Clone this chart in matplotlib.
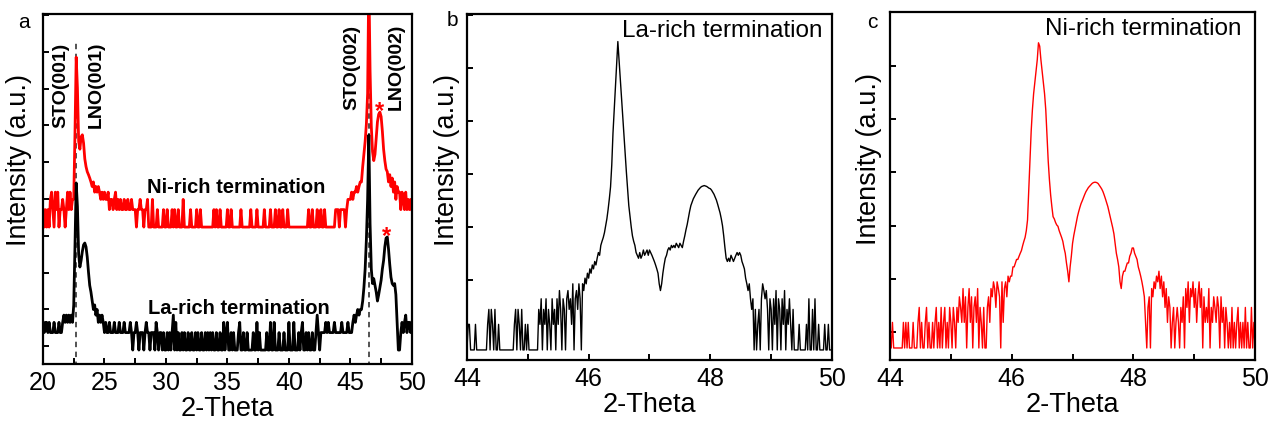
import numpy as np
import matplotlib
matplotlib.use("Agg")
import matplotlib.pyplot as plt

plt.rcParams["font.family"] = ["Liberation Sans", "DejaVu Sans"]

# ---- panel a: wide scans 20-50 deg, 0.1 deg step (raw counts) ----
theta_wide = np.round(np.linspace(20.0, 50.0, 301), 2)

counts_la_wide = [
    3, 2, 3, 3, 2, 3, 2, 2, 2, 3,         # 20
    2, 2, 2, 3, 2, 2, 3, 4, 3, 4,         # 21
    3, 4, 3, 4, 3, 6, 60, 760, 300, 45,   # 22
    27, 35, 50, 65, 70, 60, 40, 22, 13, 10,  # 23
    7, 5, 6, 4, 5, 3, 4, 3, 4, 3,         # 24
    2, 3, 2, 2, 3, 2, 2, 2, 3, 2,         # 25
    2, 2, 3, 2, 2, 2, 3, 2, 2, 2,         # 26
    2, 3, 2, 1, 2, 2, 3, 2, 1, 2,         # 27
    2, 2, 1, 2, 3, 2, 2, 1, 2, 2,         # 28
    2, 1, 3, 2, 1, 2, 2, 1, 2, 1,         # 29
    1, 2, 1, 2, 1, 2, 4, 1, 3, 1,         # 30
    2, 1, 1, 2, 1, 2, 1, 1, 2, 1,         # 31
    1, 2, 1, 1, 2, 1, 2, 1, 1, 2,         # 32
    1, 1, 2, 1, 2, 1, 2, 1, 2, 1,         # 33
    1, 2, 1, 1, 2, 1, 1, 3, 1, 2,         # 34
    3, 1, 1, 2, 1, 2, 1, 1, 1, 2,         # 35
    3, 1, 1, 2, 1, 1, 2, 1, 1, 1,         # 36
    1, 2, 1, 1, 3, 1, 2, 1, 1, 1,         # 37
    1, 1, 2, 1, 1, 3, 1, 1, 3, 1,         # 38
    1, 1, 2, 1, 1, 1, 2, 1, 1, 1,         # 39
    3, 1, 1, 1, 3, 1, 1, 1, 2, 1,         # 40
    2, 3, 1, 1, 2, 1, 2, 1, 1, 2,         # 41
    1, 1, 2, 4, 2, 1, 2, 2, 2, 2,         # 42
    3, 2, 3, 2, 2, 2, 2, 3, 2, 2,         # 43
    2, 2, 2, 3, 2, 2, 2, 2, 3, 2,         # 44
    2, 2, 3, 4, 3, 4, 5, 4, 5, 5,         # 45
    7, 12, 25, 80, 390, 5100, 150, 25, 14, 17,  # 46
    13, 10, 7, 9, 12, 16, 25, 35, 60, 85,  # 47
    89, 55, 30, 18, 14, 13, 14, 9, 3, 1,  # 48
    1, 2, 3, 2, 3, 4, 2, 3, 3, 2,         # 49
    3,
]

counts_ni_wide = [
    2, 1, 2, 1, 2, 1, 3, 4, 2, 1,         # 20
    4, 2, 4, 1, 2, 2, 3, 2, 1, 2,         # 21
    4, 2, 4, 2, 3, 3, 40, 850, 250, 30,   # 22
    22, 36, 39, 28, 15, 11, 9, 8, 7, 6,   # 23
    5, 6, 4, 5, 4, 5, 4, 3, 4, 3,         # 24
    4, 3, 3, 4, 2, 3, 3, 2, 3, 4,         # 25
    2, 3, 2, 3, 2, 2, 3, 2, 2, 3,         # 26
    2, 2, 3, 2, 2, 2, 1, 2, 2, 3,         # 27
    2, 2, 1, 2, 2, 3, 1, 1, 1, 3,         # 28
    1, 1, 1, 2, 1, 1, 1, 1, 2, 1,         # 29
    1, 2, 1, 1, 1, 2, 1, 2, 1, 1,         # 30
    2, 1, 1, 1, 3, 1, 1, 1, 1, 1,         # 31
    2, 1, 1, 1, 1, 2, 1, 1, 2, 1,         # 32
    1, 1, 1, 1, 1, 1, 1, 1, 1, 2,         # 33
    1, 2, 1, 1, 2, 1, 1, 1, 1, 1,         # 34
    2, 1, 1, 2, 1, 1, 1, 1, 1, 1,         # 35
    1, 2, 1, 1, 1, 1, 1, 1, 1, 2,         # 36
    1, 1, 1, 1, 2, 1, 1, 1, 1, 1,         # 37
    2, 1, 1, 1, 1, 2, 1, 1, 1, 2,         # 38
    1, 1, 2, 1, 1, 2, 1, 1, 1, 2,         # 39
    1, 1, 1, 1, 1, 1, 1, 1, 1, 1,         # 40
    1, 1, 1, 1, 1, 1, 2, 1, 1, 2,         # 41
    1, 1, 1, 2, 1, 1, 2, 1, 1, 2,         # 42
    1, 1, 1, 1, 1, 1, 1, 1, 2, 2,         # 43
    2, 1, 2, 2, 2, 2, 1, 2, 3, 3,         # 44
    3, 4, 3, 4, 4, 5, 4, 5, 6, 6,         # 45
    11, 18, 30, 60, 200, 20000, 500, 55, 20, 14,  # 46
    18, 35, 65, 88, 96, 80, 45, 22, 14, 10,  # 47
    9, 6, 8, 5, 7, 4, 6, 3, 5, 4,         # 48
    4, 2, 4, 3, 2, 4, 2, 3, 2, 3,         # 49
    2,
]

# ---- panels b, c: fine scans 44-50 deg, 0.02 deg step ----
theta_fine = np.round(np.linspace(44.0, 50.0, 301), 2)

counts_la_fine = [
    1, 2, 2, 1, 1, 1, 1, 2, 1, 1,          # 44.0
    1, 1, 1, 1, 1, 1, 1, 2, 3, 1,          # 44.2
    3, 2, 1, 3, 1, 1, 2, 1, 1, 1,          # 44.4
    1, 1, 1, 1, 1, 1, 1, 1, 1, 2,          # 44.6
    3, 1, 3, 2, 1, 3, 1, 1, 2, 1,          # 44.8
    2, 1, 1, 1, 1, 1, 1, 1, 1, 3,          # 45.0
    2, 4, 1, 3, 2, 4, 1, 3, 2, 1,          # 45.2
    4, 2, 3, 1, 4, 2, 5, 3, 1, 4,          # 45.4
    3, 1, 4, 5, 3, 4, 2, 6, 1, 4,          # 45.6
    5, 3, 6, 4, 1, 6, 5, 7, 6, 8,          # 45.8
    7, 9, 8, 10, 9, 11, 10, 12, 14, 13,    # 46.0
    17, 19, 21, 24, 29, 35, 45, 60, 83, 150,  # 46.2
    355, 660, 1230, 2290, 4260, 2570, 1580, 955, 590, 355,  # 46.4
    200, 125, 80, 50, 37, 28, 22, 19, 17, 14,  # 46.6
    13, 12, 14, 12, 13, 15, 13, 14, 15, 13,  # 46.8
    15, 14, 13, 12, 11, 10, 9, 8, 6, 5,    # 47.0
    6, 8, 10, 12, 13, 15, 16, 15, 17, 16,  # 47.2
    17, 16, 18, 17, 16, 18, 17, 16, 19, 22,  # 47.4
    26, 30, 36, 43, 50, 55, 60, 64, 68, 72,  # 47.6
    76, 79, 82, 84, 85, 86, 85, 84, 82, 80,  # 47.8
    79, 76, 72, 68, 63, 58, 52, 46, 41, 35,  # 48.0
    29, 22, 16, 12, 11, 12, 11, 13, 12, 11,  # 48.2
    12, 13, 14, 13, 14, 13, 11, 10, 9, 7,  # 48.4
    6, 5, 6, 4, 3, 4, 1, 3, 1, 2,          # 48.6
    3, 1, 4, 6, 5, 4, 5, 3, 1, 4,          # 48.8
    3, 1, 4, 2, 5, 1, 4, 3, 1, 4,          # 49.0
    2, 5, 1, 3, 2, 4, 2, 1, 3, 1,          # 49.2
    1, 1, 1, 2, 1, 1, 1, 1, 1, 2,          # 49.4
    1, 4, 1, 1, 3, 1, 4, 1, 1, 2,          # 49.6
    1, 1, 1, 1, 2, 1, 1, 2, 1, 1,          # 49.8
    1,
]

counts_ni_fine = [
    1, 1, 2, 1, 1, 1, 1, 1, 1, 1,          # 44.0
    1, 2, 1, 2, 1, 2, 1, 1, 1, 2,          # 44.2
    1, 1, 1, 2, 3, 1, 2, 1, 1, 2,          # 44.4
    3, 1, 2, 1, 1, 2, 1, 2, 3, 1,          # 44.6
    2, 1, 3, 1, 2, 3, 1, 2, 1, 3,          # 44.8
    2, 1, 3, 2, 1, 3, 2, 4, 3, 2,          # 45.0
    5, 2, 4, 1, 3, 5, 2, 4, 1, 3,          # 45.2
    4, 2, 5, 1, 3, 2, 1, 3, 1, 1,          # 45.4
    3, 4, 2, 5, 4, 6, 5, 3, 6, 5,          # 45.6
    4, 1, 6, 2, 5, 6, 4, 7, 6, 7,          # 45.8
    7, 9, 9, 10, 11, 11, 12, 13, 14, 16,   # 46.0
    18, 20, 24, 32, 71, 158, 355, 631, 977, 1318,  # 46.2
    1820, 2455, 3890, 3550, 2455, 1820, 1318, 977, 631, 316,  # 46.4
    158, 95, 63, 46, 35, 33, 30, 28, 27, 24,  # 46.6
    22, 20, 18, 15, 13, 10, 8, 6, 9, 12,   # 46.8
    17, 21, 25, 30, 35, 40, 45, 50, 54, 59,  # 47.0
    64, 69, 73, 77, 80, 83, 86, 88, 89, 89,  # 47.2
    88, 86, 82, 78, 74, 69, 63, 57, 51, 46,  # 47.4
    40, 35, 30, 26, 22, 17, 13, 11, 9, 6,  # 47.6
    5, 7, 8, 8, 9, 10, 10, 12, 13, 15,     # 47.8
    15, 13, 12, 11, 9, 8, 7, 6, 5, 4,      # 48.0
    2, 1, 3, 4, 1, 5, 4, 6, 5, 7,          # 48.2
    6, 8, 5, 7, 4, 6, 3, 5, 2, 4,          # 48.4
    3, 1, 2, 3, 1, 2, 3, 2, 1, 3,          # 48.6
    2, 4, 1, 5, 3, 6, 2, 5, 4, 6,          # 48.8
    3, 5, 2, 4, 6, 3, 5, 1, 4, 2,          # 49.0
    3, 2, 5, 1, 3, 2, 4, 3, 2, 4,          # 49.2
    3, 1, 4, 2, 3, 1, 3, 2, 1, 2,          # 49.4
    1, 3, 1, 2, 1, 2, 3, 1, 2, 1,          # 49.6
    2, 1, 3, 1, 2, 1, 1, 3, 1, 2,          # 49.8
    1,
]

peak_labels = ["STO(001)", "LNO(001)", "STO(002)", "LNO(002)"]
peak_label_x = [21.47, 24.3, 45.1, 48.77]
sto_lines = [22.72, 46.5]

RED = "#ff0000"


def style_axes(ax, major, minor, yticks):
    for s in ax.spines.values():
        s.set_linewidth(1.6)
    ax.set_xticks(major)
    ax.set_xticks(minor, minor=True)
    ax.set_yticks(yticks)
    ax.set_yticklabels([])
    ax.tick_params(axis="both", which="both", direction="in", length=4,
                   width=1.4, top=False, right=False)
    ax.tick_params(axis="x", labelsize=18, pad=5)
    ax.set_xlabel("2-Theta", fontsize=19.5, labelpad=1)
    ax.set_ylabel("Intensity (a.u.)", fontsize=19.5)


fig = plt.figure(figsize=(12.72, 4.26), dpi=100)

# ---------------- panel a ----------------
ax = fig.add_axes([0.0338, 0.1455, 0.290, 0.8216])
ni_offset = 2.12
ax.plot([sto_lines[0]] * 2, [-0.3, 5.3], ls=(0, (3, 2.5)), color="#444444",
        lw=1.3, zorder=1)
ax.plot([sto_lines[1]] * 2, [-0.3, 6.0], ls=(0, (3, 2.5)), color="#444444",
        lw=1.3, zorder=1)
ax.plot(theta_wide, np.log10(counts_ni_wide) + ni_offset, color=RED, lw=2.0,
        zorder=2)
ax.plot(theta_wide, np.log10(counts_la_wide), color="black", lw=2.0, zorder=3)
ax.set_xlim(20, 50)
ax.set_ylim(-0.241, 5.793)
style_axes(ax, [20, 25, 30, 35, 40, 45, 50], np.arange(22.5, 50, 5),
           np.arange(0.068, 5.8, 0.634))
ax.yaxis.set_label_coords(-0.03, 0.583)

for lab, xp, yp in zip(peak_labels, peak_label_x, [3.83, 3.83, 4.14, 4.14]):
    ax.text(xp, yp, lab, rotation=90, ha="center", va="bottom",
            fontsize=14, fontweight="bold")
ax.text(47.4, 4.12, "*", color=RED, fontsize=17, fontweight="bold",
        ha="center", va="center")
ax.text(47.97, 1.95, "*", color=RED, fontsize=17, fontweight="bold",
        ha="center", va="center")
ax.text(35.75, 2.81, "Ni-rich termination", fontsize=14.5,
        fontweight="bold", ha="center", va="center")
ax.text(35.9, 0.72, "La-rich termination", fontsize=14.5,
        fontweight="bold", ha="center", va="center")

# ---------------- panel b ----------------
axb = fig.add_axes([0.3671, 0.155, 0.287, 0.812])
axb.plot(theta_fine, np.log10(counts_la_fine), color="black", lw=1.0)
axb.set_xlim(44, 50)
axb.set_ylim(-0.118, 3.953)
style_axes(axb, [44, 46, 48, 50], [45, 47, 49], np.arange(0.824, 3.96, 0.624))
axb.yaxis.set_label_coords(-0.019, 0.578)
axb.text(0.975, 0.983, "La-rich termination", transform=axb.transAxes,
         fontsize=17.5, ha="right", va="top")

# ---------------- panel c ----------------
axc = fig.add_axes([0.6997, 0.155, 0.287, 0.817])
axc.plot(theta_fine, np.log10(counts_ni_fine), color=RED, lw=1.0)
axc.set_xlim(44, 50)
axc.set_ylim(-0.141, 3.953)
style_axes(axc, [44, 46, 48, 50], [45, 47, 49], np.arange(0.185, 3.96, 0.627))
axc.yaxis.set_label_coords(-0.022, 0.578)
axc.text(0.963, 0.983, "Ni-rich termination", transform=axc.transAxes,
         fontsize=17.5, ha="right", va="top")

fig.text(0.0142, 0.948, "a", fontsize=15, va="center")
fig.text(0.3514, 0.951, "b", fontsize=15, va="center")
fig.text(0.6816, 0.948, "c", fontsize=15, va="center")

fig.savefig("out.png", dpi=100)
